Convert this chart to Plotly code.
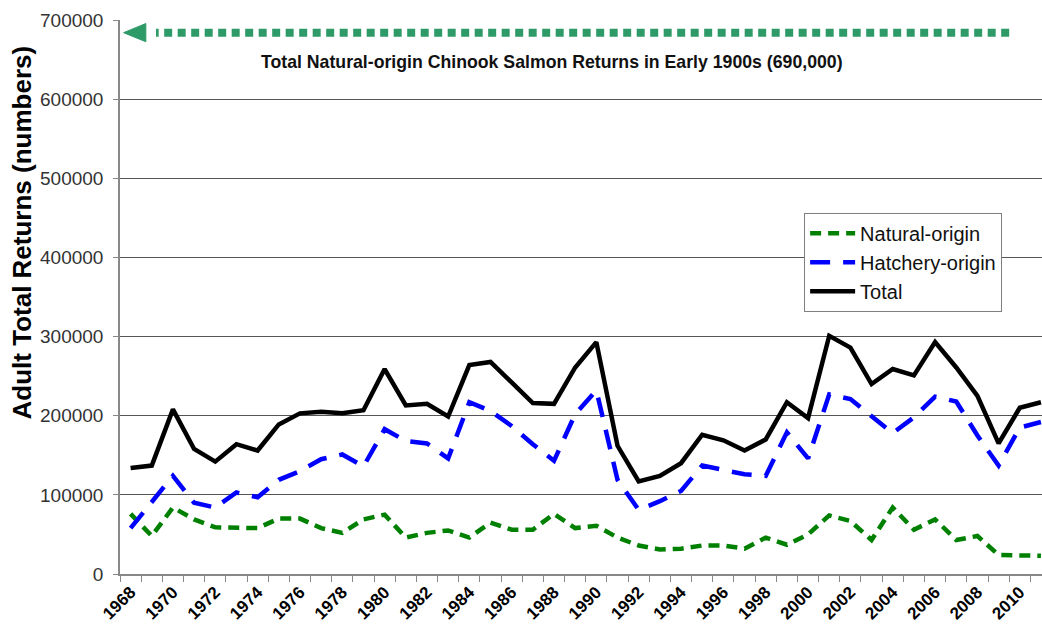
import plotly.graph_objects as go

years = list(range(1968, 2012))

natural = [76000, 48000, 84000, 69000, 59000, 58000, 58000, 70000, 70000, 58000,
           52000, 69000, 75000, 46000, 52000, 55000, 46000, 65000, 56000, 56000,
           76000, 58000, 61000, 46000, 36000, 31000, 32000, 36000, 36000, 32000,
           46000, 37000, 50000, 74000, 67000, 43000, 84000, 56000, 69000, 43000,
           48000, 24000, 24000, 23000]

hatchery = [58000, 91000, 124000, 90000, 84000, 103000, 97000, 119000, 130000, 145000,
            151000, 136000, 183000, 168000, 165000, 146000, 217000, 206000, 187000, 164000,
            143000, 202000, 232000, 119000, 81000, 92000, 105000, 137000, 131000, 126000,
            124000, 179000, 146000, 227000, 221000, 200000, 178000, 198000, 224000, 218000,
            175000, 137000, 185000, 192000]

total = [134000, 137000, 208000, 158000, 142000, 164000, 156000, 189000, 203000, 205000,
         203000, 207000, 259000, 213000, 215000, 199000, 264000, 268000, 242000, 216000,
         215000, 261000, 293000, 162000, 117000, 124000, 140000, 176000, 169000, 156000,
         170000, 217000, 197000, 301000, 286000, 240000, 259000, 251000, 293000, 261000,
         225000, 165000, 210000, 217000]

tick_years = list(range(1968, 2011, 2))
y_ticks = list(range(0, 700001, 100000))

arrow_level = 684000
arrow_start_year = 2009.5
arrow_end_year = 1969.2
arrow_tip_year = 1967.67
arrow_base_year = 1968.72
arrow_half = 11500
note_text = "Total Natural-origin Chinook Salmon Returns in Early 1900s (690,000)"
y_title = "Adult Total Returns (numbers)"

FONT = "Liberation Sans, Arial, sans-serif"

fig = go.Figure()
fig.add_trace(go.Scatter(x=years, y=natural, mode="lines", name="Natural-origin",
                         line=dict(color="#008000", width=4.5, dash="11px,7px")))
fig.add_trace(go.Scatter(x=years, y=hatchery, mode="lines", name="Hatchery-origin",
                         line=dict(color="#0000FF", width=4.5, dash="20px,13px")))
fig.add_trace(go.Scatter(x=years, y=total, mode="lines", name="Total",
                         line=dict(color="#000000", width=4.5)))

# dotted arrow
fig.add_shape(type="line", xref="x", yref="y",
              x0=arrow_start_year, x1=arrow_end_year, y0=arrow_level, y1=arrow_level,
              line=dict(color="#2E9A68", width=8, dash="8px,5.5px"), layer="above")
fig.add_shape(type="path", xref="x", yref="y",
              path=f"M {arrow_tip_year} {arrow_level} L {arrow_base_year} {arrow_level + arrow_half} "
                   f"L {arrow_base_year} {arrow_level - arrow_half} Z",
              fillcolor="#2E9A68", line=dict(color="#2E9A68", width=1), layer="above")

fig.add_annotation(x=1987.9, y=647000, xref="x", yref="y", text=f"<b>{note_text}</b>",
                   showarrow=False, font=dict(family=FONT, size=17.7, color="#111111"))

fig.add_annotation(x=-0.106, y=0.617, xref="paper", yref="paper", text=f"<b>{y_title}</b>",
                   textangle=-90, showarrow=False, xanchor="center", yanchor="middle",
                   font=dict(family=FONT, size=26, color="#000000"))

fig.update_layout(
    width=1042, height=628,
    margin=dict(l=120, r=0, t=20, b=54),
    paper_bgcolor="white", plot_bgcolor="white",
    font=dict(family=FONT),
    showlegend=True,
    legend=dict(x=0.742, y=0.652, xanchor="left", yanchor="top",
                bgcolor="white", bordercolor="#7F7F7F", borderwidth=1,
                font=dict(family=FONT, size=20, color="#111111"),
                itemwidth=45, tracegroupgap=0),
)

fig.update_xaxes(
    range=[1967.5, 2011.05], tickmode="array", tickvals=tick_years,
    ticktext=[f"<b>{y}</b>" for y in tick_years],
    tickangle=-45, tickfont=dict(family=FONT, size=17, color="#000000"),
    ticks="", showgrid=False, zeroline=False,
    showline=True, linecolor="#888888", linewidth=1.5,
    minor=dict(ticks="outside", ticklen=6, tick0=1967.5, dtick=1, tickcolor="#888888",
               showgrid=False),
    automargin=False,
)

fig.update_yaxes(
    range=[0, 700000], tickmode="array", tickvals=y_ticks,
    ticktext=[str(v) for v in y_ticks],
    tickfont=dict(family=FONT, size=19, color="#333333"),
    ticks="outside", ticklen=5, tickcolor="#888888",
    ticklabelstandoff=6,
    showgrid=True, gridcolor="#555555", gridwidth=1,
    zeroline=False, showline=True, linecolor="#888888", linewidth=1.5,
    automargin=False,
)

fig.write_html(
    "out.html",
    config={"displayModeBar": False},
    post_script="document.body.style.margin='0';document.body.style.overflow='hidden';",
)
